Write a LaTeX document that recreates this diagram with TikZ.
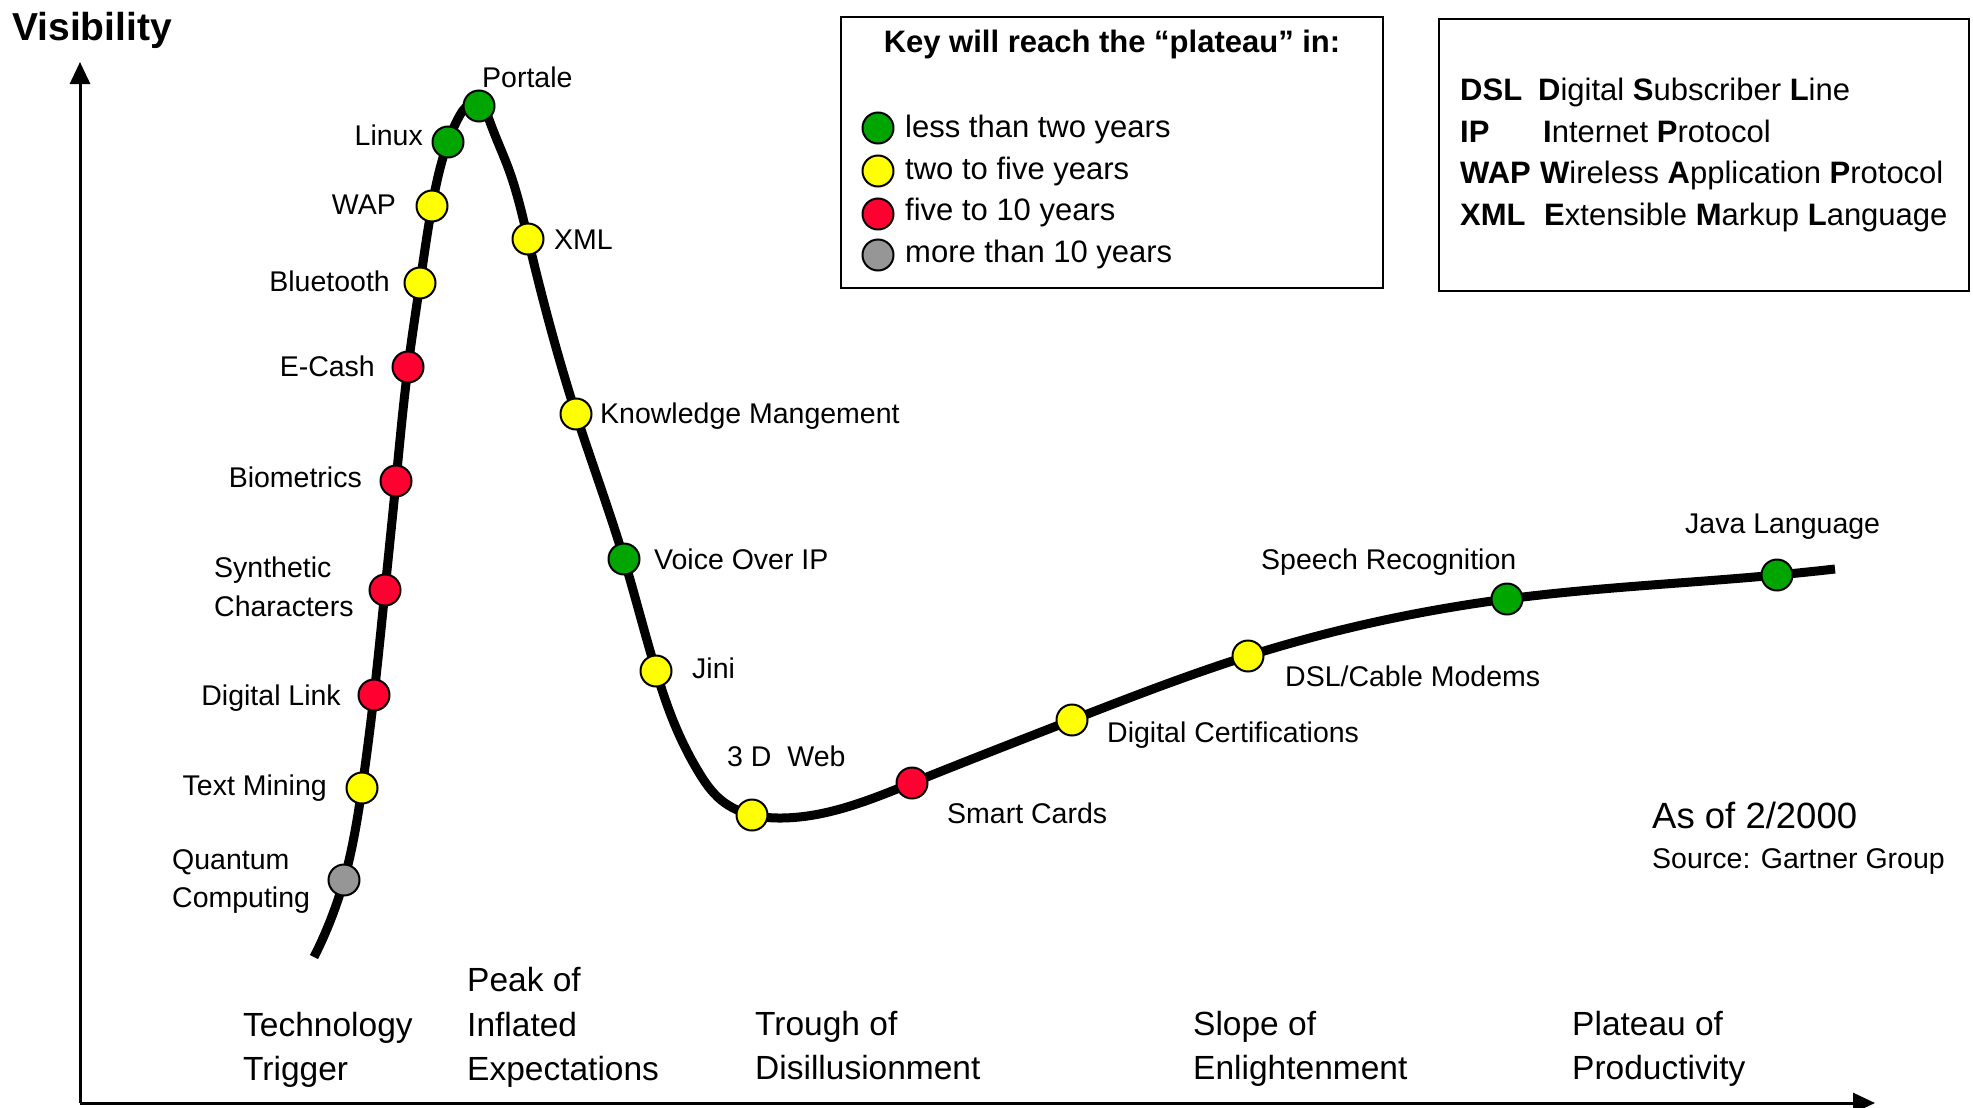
\documentclass[tikz,border=0pt]{standalone}
\usepackage{fontspec}
\setmainfont{Liberation Sans}
\usetikzlibrary{arrows.meta,hobby}
\newcommand\lblf{\fontsize{28.5}{34}\selectfont}
\newcommand\phf{\fontsize{33.5}{40}\selectfont}
\newcommand\keyf{\fontsize{31}{37}\selectfont}
\newcommand\visf{\fontsize{39}{46}\bfseries\selectfont}
\newcommand\asf{\fontsize{36.5}{44}\selectfont}
\definecolor{dgreen}{RGB}{0,165,0}
\definecolor{dyellow}{RGB}{255,255,0}
\definecolor{dred}{RGB}{255,0,48}
\definecolor{dgray}{RGB}{150,150,150}
\begin{document}
\begin{tikzpicture}[x=1pt,y=-1pt,
  lb/.style={font=\lblf, inner sep=0pt, text height=20.4pt, text depth=0pt},
  ph/.style={font=\phf, inner sep=0pt, text height=24pt, text depth=0pt, anchor=west},
  kt/.style={font=\keyf, inner sep=0pt, text height=22.2pt, text depth=0pt, anchor=west},
  dotb/.style={circle, draw=black, line width=2pt, minimum size=31pt, inner sep=0pt},
  gdot/.style={dotb, fill=dgreen},
  ydot/.style={dotb, fill=dyellow},
  rdot/.style={dotb, fill=dred},
  kdot/.style={dotb, fill=dgray},
  axis/.style={line width=3pt, -{Triangle[length=22pt,width=20pt]}},
  box/.style={draw=black, line width=2.5pt},
  hype/.style={line width=9pt}
]
\useasboundingbox (0,0) rectangle (1973,1108);

% axes
\coordinate (o) at (80,1103);
\coordinate (ytip) at (80,62);
\coordinate (xtip) at (1875,1103);
\draw[axis] (o) -- (ytip);
\draw[axis] (o) -- (xtip);
\node[font=\visf, inner sep=0pt, text height=27.9pt, text depth=0pt, anchor=west] (vis) at (12,27) {Visibility};

% curve points
\coordinate (c0) at (314,957);
\coordinate (q) at (344,880);
\coordinate (tm) at (362,788);
\coordinate (dl) at (374,695);
\coordinate (sc) at (385,590);
\coordinate (bi) at (396,481);
\coordinate (ec) at (408,367);
\coordinate (bt) at (420,283);
\coordinate (wap) at (432,206);
\coordinate (lin) at (448,142);
\coordinate (k1) at (460,115);
\coordinate (pk) at (473,104);
\coordinate (por) at (479,106);
\coordinate (k2) at (490,122);
\coordinate (k3) at (509,170);
\coordinate (xml) at (528,239);
\coordinate (km) at (576,414);
\coordinate (voip) at (624,559);
\coordinate (jini) at (656,671);
\coordinate (k4) at (677,730);
\coordinate (k5) at (698,771);
\coordinate (k6) at (721,800);
\coordinate (web) at (752,815);
\coordinate (k7) at (782,818);
\coordinate (smart) at (912,783);
\coordinate (cert) at (1072,720);
\coordinate (dsl) at (1248,656);
\coordinate (speech) at (1507,599);
\coordinate (java) at (1777,575);
\coordinate (cend) at (1835,569);

\draw[hype, use Hobby shortcut] (c0) .. (q) .. (tm) .. (dl) .. (sc) .. (bi) .. (ec) .. (bt) .. (wap) .. (lin) .. (k1) .. (pk) .. (k2) .. (k3) .. (xml) .. (km) .. (voip) .. (jini) .. (k4) .. (k5) .. (k6) .. (web) .. (k7) .. (smart) .. (cert) .. (dsl) .. (speech) .. (java) .. (cend);

% dots
\node[kdot] (nq) at (q) {};
\node[ydot] (ntm) at (tm) {};
\node[rdot] (ndl) at (dl) {};
\node[rdot] (nsc) at (sc) {};
\node[rdot] (nbi) at (bi) {};
\node[rdot] (nec) at (ec) {};
\node[ydot] (nbt) at (bt) {};
\node[ydot] (nwap) at (wap) {};
\node[gdot] (nlin) at (lin) {};
\node[gdot] (npor) at (por) {};
\node[ydot] (nxml) at (xml) {};
\node[ydot] (nkm) at (km) {};
\node[gdot] (nvoip) at (voip) {};
\node[ydot] (njini) at (jini) {};
\node[ydot] (nweb) at (web) {};
\node[rdot] (nsmart) at (smart) {};
\node[ydot] (ncert) at (cert) {};
\node[ydot] (ndsl) at (dsl) {};
\node[gdot] (nspeech) at (speech) {};
\node[gdot] (njava) at (java) {};

% labels
\node[lb, anchor=west] (lpor) at (482,77) {Portale};
\node[lb, anchor=east] (llin) at (423,135) {Linux};
\node[lb, anchor=east] (lwap) at (396,204) {WAP};
\node[lb, anchor=east] (lbt) at (390,281) {Bluetooth};
\node[lb, anchor=east] (lec) at (375,366) {E-Cash};
\node[lb, anchor=east] (lbi) at (362,477) {Biometrics};
\node[lb, anchor=west] (lsc1) at (214,567) {Synthetic};
\node[lb, anchor=west] (lsc2) at (214,606) {Characters};
\node[lb, anchor=east] (ldl) at (341,695) {Digital Link};
\node[lb, anchor=east] (ltm) at (327,785) {Text Mining};
\node[lb, anchor=west] (lq1) at (172,859) {Quantum};
\node[lb, anchor=west] (lq2) at (172,897) {Computing};
\node[lb, anchor=west] (lxml) at (554,239) {XML};
\node[lb, anchor=west] (lkm) at (600,413) {Knowledge Mangement};
\node[lb, anchor=west] (lvoip) at (654,559) {Voice Over IP};
\node[lb, anchor=west] (ljini) at (692,668) {Jini};
\node[lb, anchor=west] (lweb) at (727,756) {3 D\ \ Web};
\node[lb, anchor=west] (lsmart) at (947,813) {Smart Cards};
\node[lb, anchor=west] (lcert) at (1107,732) {Digital Certifications};
\node[lb, anchor=west] (ldsl) at (1285,676) {DSL/Cable Modems};
\node[lb, anchor=west] (lspeech) at (1261,559) {Speech Recognition};
\node[lb, anchor=west] (ljava) at (1685,523) {Java Language};
\node[font=\asf, inner sep=0pt, text height=26.1pt, text depth=0pt, anchor=west] (asof) at (1652,815) {As of 2/2000};
\node[lb, anchor=west] (src) at (1652,858) {Source: Gartner Group};

% phases
\node[ph] (p1a) at (243,1024) {Technology};
\node[ph] (p1b) at (243,1068) {Trigger};
\node[ph] (p2a) at (467,979) {Peak of};
\node[ph] (p2b) at (467,1024) {Inflated};
\node[ph] (p2c) at (467,1068) {Expectations};
\node[ph] (p3a) at (755,1023) {Trough of};
\node[ph] (p3b) at (755,1067) {Disillusionment};
\node[ph] (p4a) at (1193,1023) {Slope of};
\node[ph] (p4b) at (1193,1067) {Enlightenment};
\node[ph] (p5a) at (1572,1023) {Plateau of};
\node[ph] (p5b) at (1572,1067) {Productivity};

% key box
\draw[box] (841,17) rectangle (1383,288);
\node[kt, anchor=center, font=\keyf\bfseries] (ktitle) at (1112,41) {Key will reach the “plateau” in:};
\node[gdot] (kg) at (878,128) {};
\node[ydot] (ky) at (878,171) {};
\node[rdot] (kr) at (878,214) {};
\node[kdot] (kk) at (878,255) {};
\node[kt] (kgt) at (905,126) {less than two years};
\node[kt] (kyt) at (905,168) {two to five years};
\node[kt] (krt) at (905,209) {five to 10 years};
\node[kt] (kkt) at (905,251) {more than 10 years};

% abbreviation box
\draw[box] (1439,19) rectangle (1969,291);
\node[kt, font=\keyf\bfseries] (a1) at (1460,89) {DSL};
\node[kt] (a1t) at (1538,89) {\textbf{D}igital \textbf{S}ubscriber \textbf{L}ine};
\node[kt, font=\keyf\bfseries] (a2) at (1460,131) {IP};
\node[kt] (a2t) at (1543,131) {\textbf{I}nternet \textbf{P}rotocol};
\node[kt, font=\keyf\bfseries] (a3) at (1460,172) {WAP};
\node[kt] (a3t) at (1540,172) {\textbf{W}ireless \textbf{A}pplication \textbf{P}rotocol};
\node[kt, font=\keyf\bfseries] (a4) at (1460,214) {XML};
\node[kt] (a4t) at (1544,214) {\textbf{E}xtensible \textbf{M}arkup \textbf{L}anguage};
\end{tikzpicture}
\end{document}
